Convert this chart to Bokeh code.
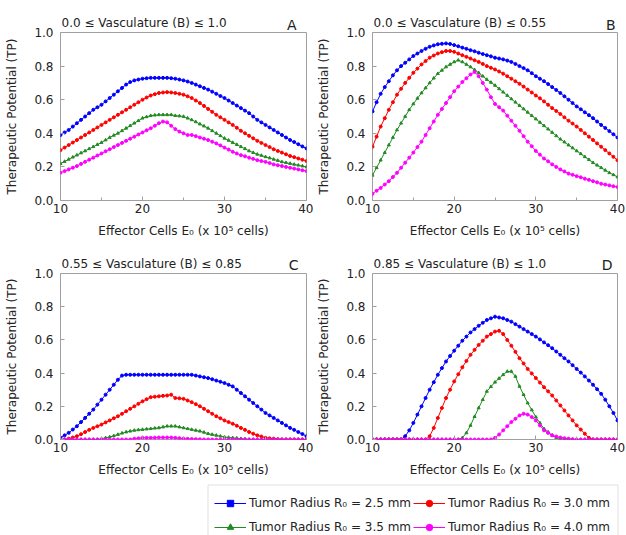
from bokeh.plotting import figure
from bokeh.models import (Range1d, Label, FixedTicker, NumeralTickFormatter,
                          Legend, LegendItem, ColumnDataSource, BoxAnnotation)
from bokeh.layouts import column, row
from bokeh.embed import file_html
from bokeh.resources import INLINE

# ---------------- data ----------------
E0 = [10.0, 10.5, 11.0, 11.5, 12.0, 12.5, 13.0, 13.5, 14.0, 14.5,
      15.0, 15.5, 16.0, 16.5, 17.0, 17.5, 18.0, 18.5, 19.0, 19.5,
      20.0, 20.5, 21.0, 21.5, 22.0, 22.5, 23.0, 23.5, 24.0, 24.5,
      25.0, 25.5, 26.0, 26.5, 27.0, 27.5, 28.0, 28.5, 29.0, 29.5,
      30.0, 30.5, 31.0, 31.5, 32.0, 32.5, 33.0, 33.5, 34.0, 34.5,
      35.0, 35.5, 36.0, 36.5, 37.0, 37.5, 38.0, 38.5, 39.0, 39.5,
      40.0]

series_labels = ["Tumor Radius R\u2080 = 2.5 mm", "Tumor Radius R\u2080 = 3.0 mm",
                 "Tumor Radius R\u2080 = 3.5 mm", "Tumor Radius R\u2080 = 4.0 mm"]

panel_titles = ["0.0 \u2264 Vasculature (B) \u2264 1.0", "0.0 \u2264 Vasculature (B) \u2264 0.55",
                "0.55 \u2264 Vasculature (B) \u2264 0.85", "0.85 \u2264 Vasculature (B) \u2264 1.0"]
panel_letters = ["A", "B", "C", "D"]

# Panel A: 0.0 <= B <= 1.0
A_r25 = [0.39, 0.405, 0.42, 0.44, 0.46, 0.48, 0.50, 0.52, 0.54, 0.555,
         0.57, 0.59, 0.61, 0.63, 0.65, 0.67, 0.69, 0.705, 0.715, 0.72,
         0.725, 0.728, 0.73, 0.73, 0.73, 0.73, 0.73, 0.728, 0.725, 0.72,
         0.715, 0.708, 0.70, 0.69, 0.68, 0.67, 0.66, 0.648, 0.635, 0.622,
         0.61, 0.595, 0.58, 0.565, 0.55, 0.535, 0.52, 0.50, 0.48, 0.465,
         0.45, 0.435, 0.42, 0.405, 0.39, 0.375, 0.36, 0.348, 0.335, 0.322,
         0.31]
A_r30 = [0.30, 0.315, 0.33, 0.345, 0.36, 0.375, 0.39, 0.405, 0.42, 0.435,
         0.45, 0.465, 0.48, 0.495, 0.51, 0.525, 0.54, 0.555, 0.57, 0.585,
         0.60, 0.613, 0.625, 0.633, 0.64, 0.643, 0.645, 0.643, 0.64, 0.635,
         0.63, 0.62, 0.61, 0.595, 0.58, 0.563, 0.545, 0.528, 0.51, 0.495,
         0.48, 0.465, 0.45, 0.433, 0.415, 0.40, 0.385, 0.37, 0.355, 0.343,
         0.33, 0.318, 0.305, 0.295, 0.285, 0.275, 0.265, 0.258, 0.25, 0.243,
         0.235]
A_r35 = [0.22, 0.232, 0.245, 0.258, 0.27, 0.283, 0.295, 0.308, 0.32, 0.333,
         0.345, 0.36, 0.375, 0.388, 0.40, 0.415, 0.43, 0.445, 0.46, 0.475,
         0.49, 0.498, 0.505, 0.508, 0.51, 0.51, 0.51, 0.51, 0.505, 0.503,
         0.50, 0.49, 0.48, 0.468, 0.455, 0.443, 0.43, 0.415, 0.40, 0.385,
         0.37, 0.358, 0.345, 0.333, 0.32, 0.308, 0.295, 0.285, 0.275, 0.268,
         0.26, 0.253, 0.245, 0.238, 0.23, 0.225, 0.22, 0.215, 0.21, 0.205,
         0.20]
A_r40 = [0.165, 0.175, 0.185, 0.195, 0.205, 0.218, 0.23, 0.243, 0.255, 0.268,
         0.28, 0.293, 0.305, 0.318, 0.33, 0.343, 0.355, 0.368, 0.38, 0.393,
         0.405, 0.418, 0.43, 0.445, 0.46, 0.47, 0.465, 0.445, 0.425, 0.41,
         0.40, 0.39, 0.39, 0.383, 0.375, 0.368, 0.36, 0.35, 0.34, 0.328,
         0.315, 0.303, 0.29, 0.28, 0.27, 0.263, 0.255, 0.248, 0.24, 0.235,
         0.23, 0.223, 0.215, 0.21, 0.205, 0.20, 0.195, 0.19, 0.185, 0.18,
         0.175]

# Panel B: 0.0 <= B <= 0.55
B_r25 = [0.53, 0.585, 0.635, 0.675, 0.71, 0.745, 0.775, 0.80, 0.82, 0.84,
         0.86, 0.875, 0.89, 0.903, 0.915, 0.923, 0.93, 0.933, 0.935, 0.932,
         0.925, 0.918, 0.91, 0.903, 0.895, 0.888, 0.88, 0.872, 0.865, 0.858,
         0.85, 0.845, 0.84, 0.833, 0.825, 0.813, 0.80, 0.788, 0.775, 0.758,
         0.74, 0.725, 0.71, 0.693, 0.675, 0.658, 0.64, 0.62, 0.60, 0.58,
         0.56, 0.543, 0.525, 0.508, 0.49, 0.47, 0.45, 0.432, 0.413, 0.394,
         0.375]
B_r30 = [0.32, 0.38, 0.44, 0.49, 0.54, 0.585, 0.63, 0.665, 0.70, 0.73,
         0.76, 0.785, 0.81, 0.83, 0.85, 0.863, 0.875, 0.883, 0.89, 0.89,
         0.885, 0.875, 0.865, 0.855, 0.845, 0.835, 0.825, 0.813, 0.80, 0.79,
         0.78, 0.768, 0.755, 0.74, 0.725, 0.71, 0.695, 0.678, 0.66, 0.643,
         0.625, 0.608, 0.59, 0.57, 0.55, 0.533, 0.515, 0.495, 0.475, 0.458,
         0.44, 0.42, 0.40, 0.38, 0.36, 0.34, 0.32, 0.30, 0.28, 0.26,
         0.24]
B_r35 = [0.15, 0.195, 0.24, 0.285, 0.33, 0.375, 0.42, 0.46, 0.50, 0.54,
         0.575, 0.608, 0.64, 0.67, 0.70, 0.728, 0.755, 0.775, 0.795, 0.81,
         0.825, 0.835, 0.825, 0.81, 0.795, 0.778, 0.76, 0.74, 0.72, 0.703,
         0.685, 0.665, 0.645, 0.625, 0.605, 0.585, 0.565, 0.545, 0.525, 0.505,
         0.485, 0.465, 0.445, 0.425, 0.405, 0.385, 0.365, 0.348, 0.33, 0.313,
         0.295, 0.278, 0.26, 0.243, 0.225, 0.21, 0.195, 0.18, 0.165, 0.153,
         0.14]
B_r40 = [0.04, 0.058, 0.075, 0.095, 0.115, 0.14, 0.165, 0.195, 0.225, 0.255,
         0.285, 0.318, 0.35, 0.39, 0.43, 0.47, 0.51, 0.545, 0.58, 0.615,
         0.65, 0.678, 0.705, 0.728, 0.75, 0.765, 0.74, 0.70, 0.66, 0.615,
         0.575, 0.555, 0.535, 0.505, 0.475, 0.445, 0.415, 0.383, 0.35, 0.323,
         0.295, 0.273, 0.25, 0.233, 0.215, 0.20, 0.185, 0.173, 0.16, 0.153,
         0.145, 0.138, 0.13, 0.123, 0.115, 0.108, 0.10, 0.095, 0.09, 0.085,
         0.08]

# Panel C: 0.55 <= B <= 0.85
C_r25 = [0.01, 0.025, 0.04, 0.06, 0.08, 0.105, 0.13, 0.155, 0.18, 0.21,
         0.24, 0.27, 0.30, 0.33, 0.36, 0.385, 0.39, 0.39, 0.39, 0.39,
         0.39, 0.39, 0.39, 0.39, 0.39, 0.39, 0.39, 0.39, 0.39, 0.39,
         0.39, 0.39, 0.39, 0.385, 0.38, 0.375, 0.37, 0.363, 0.355, 0.348,
         0.34, 0.33, 0.32, 0.30, 0.28, 0.26, 0.24, 0.22, 0.20, 0.18,
         0.16, 0.145, 0.13, 0.115, 0.10, 0.085, 0.07, 0.058, 0.045, 0.033,
         0.02]
C_r30 = [0.0, 0.0, 0.005, 0.012, 0.02, 0.032, 0.045, 0.058, 0.07, 0.08,
         0.09, 0.103, 0.115, 0.128, 0.14, 0.155, 0.17, 0.185, 0.20, 0.215,
         0.23, 0.243, 0.255, 0.258, 0.26, 0.263, 0.265, 0.27, 0.25, 0.248,
         0.245, 0.235, 0.225, 0.213, 0.20, 0.185, 0.17, 0.155, 0.14, 0.128,
         0.115, 0.105, 0.095, 0.083, 0.07, 0.058, 0.045, 0.035, 0.025, 0.018,
         0.01, 0.007, 0.005, 0.002, 0.0, 0.0, 0.0, 0.0, 0.0, 0.0,
         0.0]
C_r35 = [0.0, 0.0, 0.0, 0.0, 0.0, 0.0, 0.0, 0.0, 0.0, 0.0,
         0.005, 0.01, 0.015, 0.022, 0.03, 0.038, 0.045, 0.05, 0.055, 0.058,
         0.06, 0.063, 0.065, 0.068, 0.07, 0.075, 0.08, 0.08, 0.08, 0.075,
         0.07, 0.065, 0.06, 0.055, 0.05, 0.043, 0.035, 0.03, 0.025, 0.02,
         0.015, 0.012, 0.01, 0.008, 0.005, 0.003, 0.0, 0.0, 0.0, 0.0,
         0.0, 0.0, 0.0, 0.0, 0.0, 0.0, 0.0, 0.0, 0.0, 0.0,
         0.0]
C_r40 = [0.0, 0.0, 0.0, 0.0, 0.0, 0.0, 0.0, 0.0, 0.0, 0.0,
         0.0, 0.0, 0.0, 0.0, 0.0, 0.0, 0.0, 0.0, 0.005, 0.007,
         0.01, 0.01, 0.01, 0.011, 0.012, 0.012, 0.012, 0.012, 0.01, 0.008,
         0.005, 0.004, 0.003, 0.002, 0.001, 0.0, 0.0, 0.0, 0.0, 0.0,
         0.0, 0.0, 0.0, 0.0, 0.0, 0.0, 0.0, 0.0, 0.0, 0.0,
         0.0, 0.0, 0.0, 0.0, 0.0, 0.0, 0.0, 0.0, 0.0, 0.0,
         0.0]

# Panel D: 0.85 <= B <= 1.0
D_r25 = [0.0, 0.0, 0.0, 0.0, 0.0, 0.0, 0.0, 0.0, 0.02, 0.055,
         0.10, 0.15, 0.20, 0.25, 0.30, 0.345, 0.39, 0.43, 0.47, 0.503,
         0.535, 0.565, 0.595, 0.62, 0.645, 0.665, 0.685, 0.703, 0.72, 0.73,
         0.74, 0.735, 0.73, 0.72, 0.71, 0.695, 0.68, 0.665, 0.65, 0.635,
         0.62, 0.603, 0.585, 0.568, 0.55, 0.53, 0.51, 0.49, 0.47, 0.448,
         0.425, 0.403, 0.38, 0.355, 0.33, 0.303, 0.275, 0.24, 0.20, 0.16,
         0.115]
D_r30 = [0.0, 0.0, 0.0, 0.0, 0.0, 0.0, 0.0, 0.0, 0.0, 0.0,
         0.0, 0.0, 0.0, 0.0, 0.02, 0.07, 0.13, 0.19, 0.25, 0.30,
         0.35, 0.393, 0.435, 0.473, 0.51, 0.54, 0.57, 0.595, 0.62, 0.635,
         0.65, 0.655, 0.635, 0.60, 0.565, 0.528, 0.49, 0.458, 0.425, 0.398,
         0.37, 0.343, 0.315, 0.29, 0.265, 0.235, 0.205, 0.175, 0.145, 0.115,
         0.085, 0.06, 0.035, 0.01, 0.0, 0.0, 0.0, 0.0, 0.0, 0.0,
         0.0]
D_r35 = [0.0, 0.0, 0.0, 0.0, 0.0, 0.0, 0.0, 0.0, 0.0, 0.0,
         0.0, 0.0, 0.0, 0.0, 0.0, 0.0, 0.0, 0.0, 0.0, 0.0,
         0.0, 0.0, 0.01, 0.04, 0.085, 0.138, 0.19, 0.24, 0.29, 0.318,
         0.345, 0.368, 0.39, 0.41, 0.41, 0.38, 0.32, 0.27, 0.22, 0.178,
         0.135, 0.10, 0.065, 0.045, 0.025, 0.012, 0.005, 0.0, 0.0, 0.0,
         0.0, 0.0, 0.0, 0.0, 0.0, 0.0, 0.0, 0.0, 0.0, 0.0,
         0.0]
D_r40 = [0.0, 0.0, 0.0, 0.0, 0.0, 0.0, 0.0, 0.0, 0.0, 0.0,
         0.0, 0.0, 0.0, 0.0, 0.0, 0.0, 0.0, 0.0, 0.0, 0.0,
         0.0, 0.0, 0.0, 0.0, 0.0, 0.0, 0.0, 0.0, 0.0, 0.0,
         0.01, 0.03, 0.055, 0.08, 0.105, 0.125, 0.145, 0.155, 0.15, 0.135,
         0.115, 0.085, 0.055, 0.04, 0.025, 0.018, 0.012, 0.008, 0.005, 0.002,
         0.0, 0.0, 0.0, 0.0, 0.0, 0.0, 0.0, 0.0, 0.0, 0.0,
         0.0]

x_ticks = [10, 20, 30, 40]
x_minor_ticks = [15, 25, 35]
y_ticks = [0.0, 0.2, 0.4, 0.6, 0.8, 1.0]

# ---------------- styling ----------------
FONT = "DejaVu Sans"
COLORS = ["#0000ff", "#ff0000", "#228b22", "#ff00ff"]
MARKERS = ["circle", "circle", "triangle", "circle"]
LEG_MARKERS = ["square", "circle", "triangle", "circle"]
FRAME = "#a0a0a0"
TEXT = "#222222"

TOP_PAD = 20      # panel top border (room for the "1.0" label overhang)
OVERLAP = 19      # panel is pulled up under its header by this much


def make_header(title, letter, width, height, bl, br, letter_inset, title_base, letter_base):
    fw = width - bl - br
    h = figure(width=width, height=height, x_range=Range1d(0, fw), y_range=Range1d(0, height),
               output_backend="svg", toolbar_location=None,
               min_border_left=bl, min_border_right=br, min_border_top=0, min_border_bottom=0,
               x_axis_location=None, y_axis_location=None)
    h.grid.visible = False
    h.outline_line_color = None
    h.add_layout(Label(x=1, y=title_base, text=title, text_font=FONT,
                       text_font_size="12px", text_color=TEXT, text_align="left",
                       text_baseline="alphabetic"))
    h.add_layout(Label(x=fw - letter_inset, y=letter_base, text=letter, text_font=FONT,
                       text_font_size="14px", text_color=TEXT, text_align="right",
                       text_baseline="alphabetic"))
    return h


def make_panel(ys, width, frame_h, bl, br, bb):
    p = figure(width=width, height=TOP_PAD + frame_h + bb,
               x_range=Range1d(10, 40), y_range=Range1d(0, 1),
               output_backend="svg", toolbar_location=None,
               min_border_left=bl, min_border_right=br, min_border_top=TOP_PAD,
               min_border_bottom=bb, margin=(-OVERLAP, 0, 0, 0))
    p.grid.visible = False
    p.outline_line_color = FRAME
    p.outline_line_width = 1
    p.border_fill_alpha = 0.0

    for ax in p.axis:
        ax.axis_line_color = None
        ax.major_tick_in = 4
        ax.major_tick_out = 0
        ax.minor_tick_in = 3
        ax.minor_tick_out = 0
        ax.major_tick_line_color = FRAME
        ax.minor_tick_line_color = FRAME
        ax.major_label_text_font = FONT
        ax.major_label_text_font_size = "12px"
        ax.major_label_text_color = TEXT
        ax.axis_label_text_font = FONT
        ax.axis_label_text_font_size = "12px"
        ax.axis_label_text_font_style = "normal"
        ax.axis_label_text_color = TEXT

    p.xaxis.ticker = FixedTicker(ticks=x_ticks, minor_ticks=x_minor_ticks)
    p.xaxis.major_label_standoff = 3
    p.xaxis.axis_label_standoff = 8
    p.xaxis.axis_label = "Effector Cells E\u2080 (x 10\u2075 cells)"

    p.yaxis.ticker = FixedTicker(ticks=y_ticks, minor_ticks=[])
    p.yaxis.formatter = NumeralTickFormatter(format="0.0")
    p.yaxis.major_label_standoff = 7
    p.yaxis.axis_label_standoff = 12
    p.yaxis.axis_label = "Therapeutic Potential (TP)"

    for y, c, m in zip(ys, COLORS, MARKERS):
        src = ColumnDataSource(data=dict(x=E0, y=y))
        p.line("x", "y", source=src, line_color=c, line_width=1)
        p.scatter("x", "y", source=src, marker=m, size=3, fill_color=c, line_color=c)
    return p


# geometry (pixels): left column frame x 60..306, right column frame x 372..617
hA = make_header(panel_titles[0], panel_letters[0], 313, 31, 60, 7, 10, 9, 7)
hB = make_header(panel_titles[1], panel_letters[1], 313, 31, 59, 9, 2, 9, 7)
pA = make_panel([A_r25, A_r30, A_r35, A_r40], 313, 168, 60, 7, 49)
pB = make_panel([B_r25, B_r30, B_r35, B_r40], 313, 168, 59, 9, 49)
hC = make_header(panel_titles[2], panel_letters[2], 313, 23, 60, 7, 8, 9, 8)
hD = make_header(panel_titles[3], panel_letters[3], 313, 23, 59, 9, 5, 9, 8)
pC = make_panel([C_r25, C_r30, C_r35, C_r40], 313, 166, 60, 7, 44)
pD = make_panel([D_r25, D_r30, D_r35, D_r40], 313, 166, 59, 9, 44)

# ---------------- legend strip ----------------
# ranges are offset so that the series data drawn here stay out of view;
# only the legend glyphs are visible.
LH = 52
lp = figure(width=626, height=LH, x_range=Range1d(1000, 1626), y_range=Range1d(1000, 1000 + LH),
            output_backend="svg", toolbar_location=None, min_border=0,
            x_axis_location=None, y_axis_location=None)
lp.grid.visible = False
lp.outline_line_color = None
items = []
for lab, c, m, y in zip(series_labels, COLORS, LEG_MARKERS, [D_r25, D_r30, D_r35, D_r40]):
    src = ColumnDataSource(data=dict(x=E0, y=y))
    lr = lp.line("x", "y", source=src, line_color=c, line_width=1)
    sr = lp.scatter("x", "y", source=src, marker=m, size=7, fill_color=c, line_color=c)
    items.append(LegendItem(label=lab, renderers=[lr, sr]))

lp.add_layout(BoxAnnotation(left=1207.5, right=1617.5, bottom=990, top=1000 + LH - 1.5,
                            fill_color=None, line_color="#999999", line_width=1))

leg_kw = dict(padding=5, spacing=8, margin=0,
              glyph_width=32, glyph_height=16, label_height=16, label_width=100,
              label_standoff=3,
              label_text_font=FONT, label_text_font_size="12px", label_text_color=TEXT,
              border_line_color=None, background_fill_alpha=0.0)
leg1 = Legend(items=[items[0], items[2]], location=(214, 0), **leg_kw)
leg2 = Legend(items=[items[1], items[3]], location=(413, 0), **leg_kw)
lp.add_layout(leg1, "center")
lp.add_layout(leg2, "center")

layout = column(row(hA, hB), row(pA, pB), row(hC, hD), row(pC, pD), lp)

open("out.html", "w").write(file_html(layout, INLINE))
